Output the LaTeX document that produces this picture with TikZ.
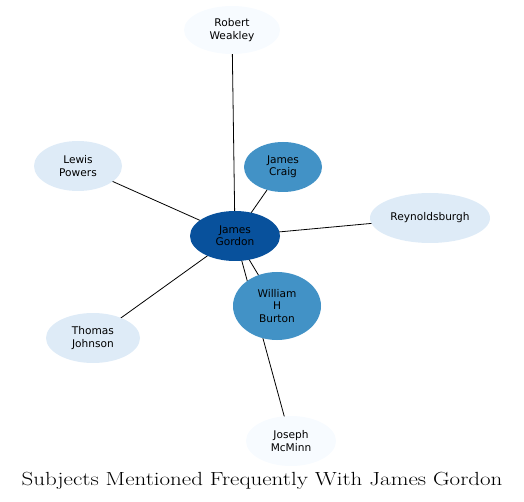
\documentclass[tikz,border=0pt]{standalone}
\usepackage{fontspec}
\newfontfamily\nodefont{DejaVu Sans}
\usetikzlibrary{shapes.geometric}
\pgfdeclarelayer{background}
\pgfsetlayers{background,main}
\definecolor{cdark}{HTML}{08519C}
\definecolor{cmid}{HTML}{4292C6}
\definecolor{clight}{HTML}{DEEBF7}
\definecolor{cpale}{HTML}{F7FBFF}
\tikzset{
  ent/.style={ellipse, draw=none, inner sep=0pt, align=center,
    font=\nodefont\fontsize{10.6}{12.2}\selectfont, text=black},
  edge/.style={draw=black, line width=0.8pt},
}
\begin{document}
\begin{tikzpicture}[x=1pt,y=-1pt]
\useasboundingbox (0,0) rectangle (524,502);
\node[ent, fill=cpale, minimum width=96, minimum height=48] (rw) at (232,30) {Robert\\Weakley};
\node[ent, fill=clight, minimum width=88, minimum height=50] (lp) at (78,166) {Lewis\\Powers};
\node[ent, fill=cmid, minimum width=78, minimum height=50] (jc) at (283,167) {James\\Craig};
\node[ent, fill=clight, minimum width=120, minimum height=50] (re) at (430,218) {Reynoldsburgh};
\node[ent, fill=cdark, minimum width=90, minimum height=50] (jg) at (235,236) {James\\Gordon};
\node[ent, fill=cmid, minimum width=88, minimum height=68] (wb) at (277,306) {William\\H\\Burton};
\node[ent, fill=clight, minimum width=94, minimum height=50] (tj) at (93,338) {Thomas\\Johnson};
\node[ent, fill=cpale, minimum width=90, minimum height=50] (jm) at (291,441) {Joseph\\McMinn};
\node[font=\fontsize{19}{21}\selectfont, inner sep=0pt] (title) at (262,481) {\scalebox{1.21}[1]{Subjects Mentioned Frequently With James Gordon}};
\begin{pgfonlayer}{background}
\draw[edge] (jg.center) -- (rw.center);
\draw[edge] (jg.center) -- (lp.center);
\draw[edge] (jg.center) -- (jc.center);
\draw[edge] (jg.center) -- (re.center);
\draw[edge] (jg.center) -- (wb.center);
\draw[edge] (jg.center) -- (tj.center);
\draw[edge] (jg.center) -- (jm.center);
\end{pgfonlayer}
\end{tikzpicture}
\end{document}
